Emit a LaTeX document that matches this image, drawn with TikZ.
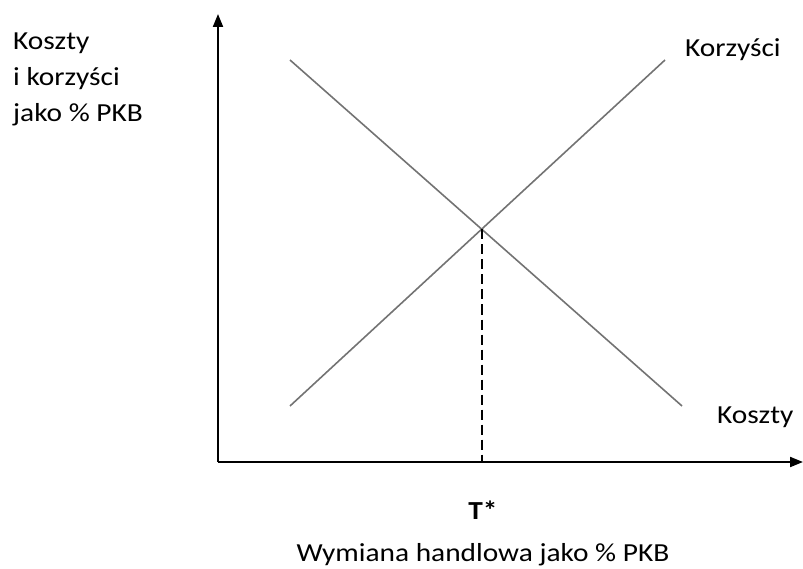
\documentclass[tikz,border=0pt]{standalone}
\usepackage{fontspec}
\setmainfont{Carlito}[FakeStretch=1.13]
\usetikzlibrary{arrows.meta}
\begin{document}
\begin{tikzpicture}[x=1pt,y=-1pt,
  axis/.style={line width=2pt,-{Triangle[length=13pt,width=10pt]}},
  curve/.style={draw=black!55,line width=1.6pt},
  guide/.style={line width=1.5pt,dash pattern=on 10pt off 5pt},
  lbl/.style={inner sep=0pt,anchor=base west,font=\fontsize{26}{35}\selectfont}]
\useasboundingbox (0,0) rectangle (803,569);
\coordinate (O) at (218,462);
\coordinate (Ytop) at (218,14);
\coordinate (Xend) at (803,462);
\draw[axis] (O) -- (Ytop);
\draw[axis] (O) -- (Xend);
\coordinate (k1) at (290,60);
\coordinate (k2) at (682,406);
\coordinate (b1) at (290,406);
\coordinate (b2) at (665,60);
\coordinate (E) at (482,229.5);
\coordinate (Ebase) at (482,462);
\draw[curve] (k1) -- (k2);
\draw[curve] (b1) -- (b2);
\draw[guide] (E) -- (Ebase);
\node[lbl] (yl1) at (13,50) {Koszty};
\node[lbl] (yl2) at (13,86) {i korzyści};
\node[lbl] (yl3) at (13,122) {jako \% PKB};
\node[lbl] (lk) at (685,57) {Korzyści};
\node[lbl] (lc) at (717,423) {Koszty};
\node[lbl,anchor=base,font=\fontsize{26}{35}\selectfont\bfseries] (T) at (483,519) {T*};
\node[lbl,anchor=base] (xl) at (483,561) {Wymiana handlowa jako \% PKB};
\end{tikzpicture}
\end{document}
